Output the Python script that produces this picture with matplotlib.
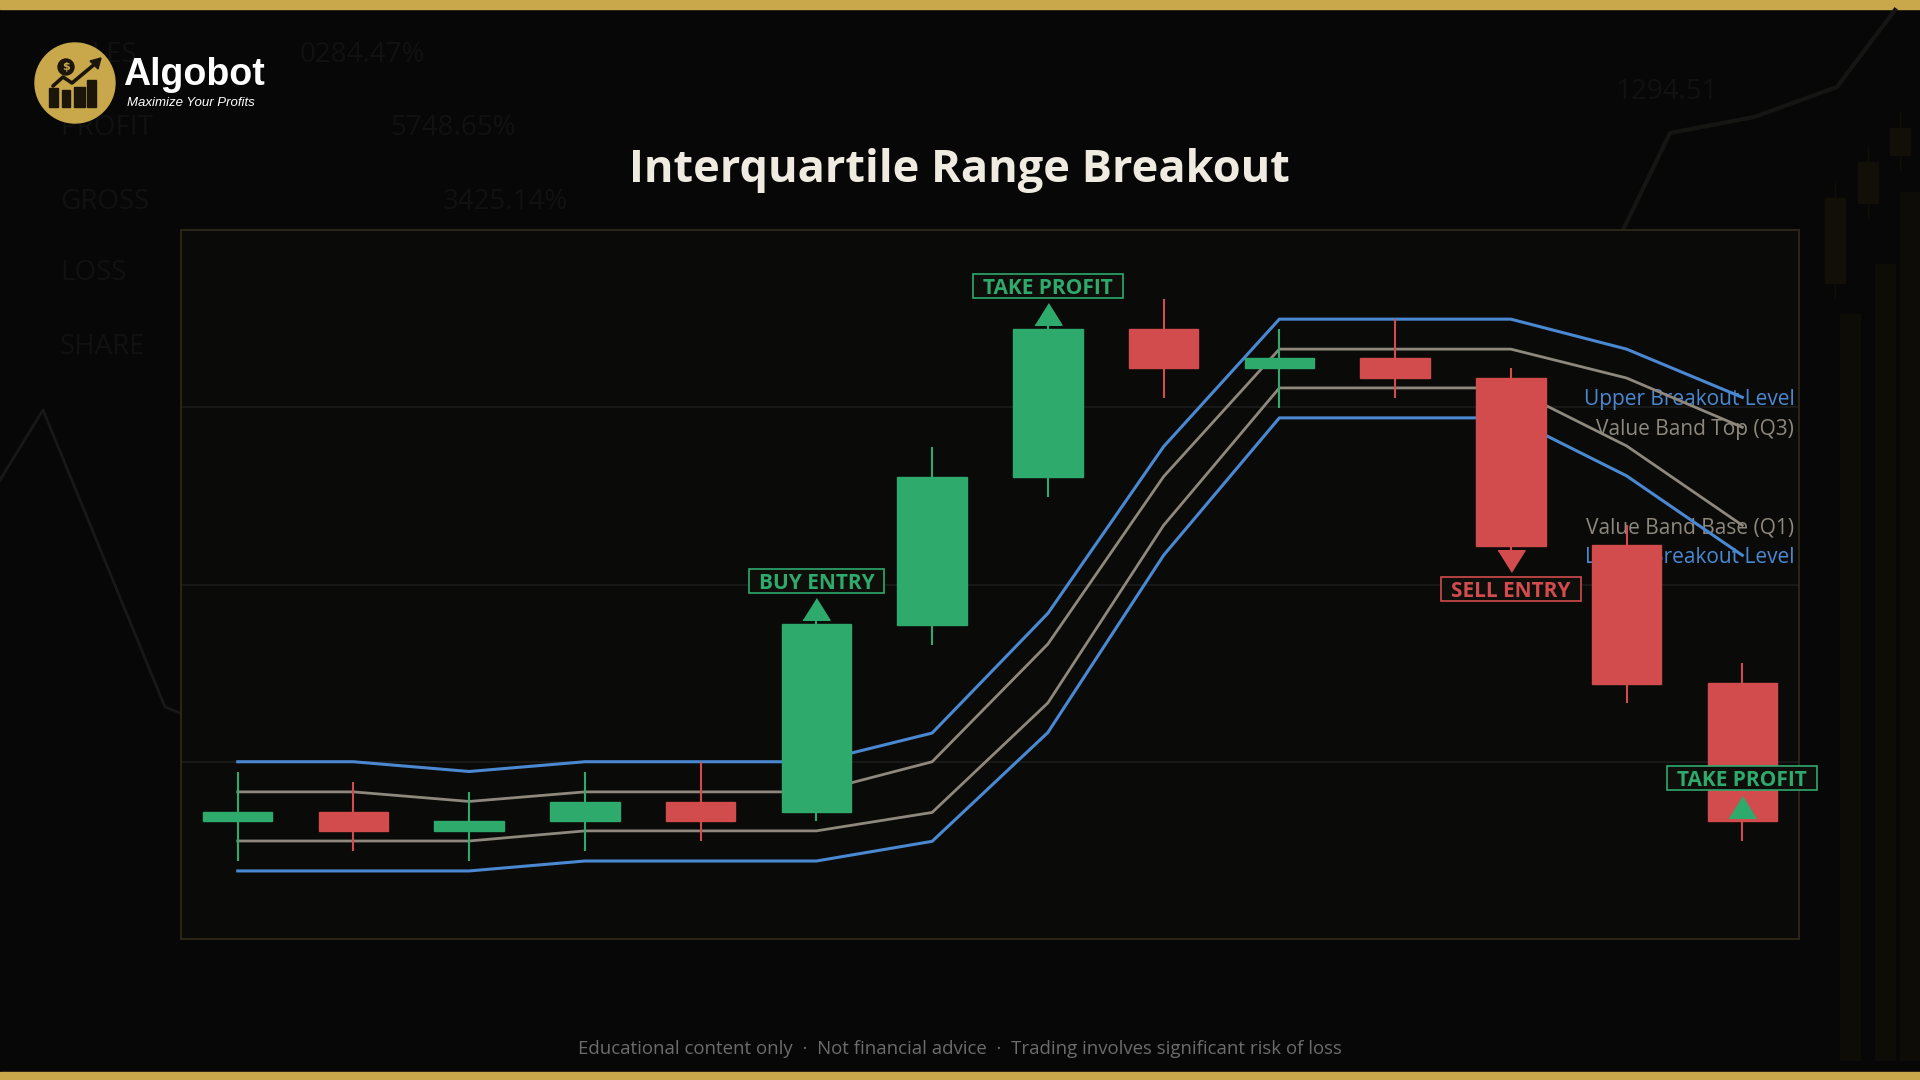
import matplotlib.pyplot as plt
from matplotlib.patches import Rectangle, Circle
from matplotlib import transforms

# ---- chart data (price units) ----
candle_idx = list(range(14))
opens = [96.64, 97.17, 96.07, 96.64, 97.73, 97.14, 107.73, 116.05, 124.42, 122.19, 122.79, 121.66, 112.21, 104.45]
closes = [97.17, 96.07, 96.66, 97.73, 96.64, 107.77, 116.09, 124.42, 122.19, 122.79, 121.63, 112.17, 104.41, 96.64]
highs = [99.44, 98.87, 98.31, 99.44, 100.0, 108.0, 117.78, 124.7, 126.11, 124.4, 124.97, 122.21, 113.34, 105.55]
lows = [94.38, 94.95, 94.38, 94.95, 95.51, 96.64, 106.6, 114.93, 120.5, 119.94, 120.5, 111.9, 103.3, 95.51]

upper_level = [100.0, 100.0, 99.45, 100.0, 100.0, 100.0, 101.62, 108.37, 117.78, 124.97, 124.97, 124.97, 123.28, 120.56]
q3_level = [98.3, 98.3, 97.76, 98.3, 98.3, 98.3, 100.0, 106.64, 116.09, 123.28, 123.28, 123.28, 121.65, 118.87]
q1_level = [95.53, 95.53, 95.53, 96.1, 96.1, 96.1, 97.14, 103.32, 113.34, 121.09, 121.09, 121.09, 117.82, 113.34]
lower_level = [93.84, 93.84, 93.84, 94.4, 94.4, 94.4, 95.51, 101.65, 111.65, 119.4, 119.4, 119.4, 116.13, 111.65]

band_names = ['Upper Breakout Level', 'Value Band Top (Q3)', 'Value Band Base (Q1)', 'Lower Breakout Level']

signal_idx = [5, 7, 11, 13]
signal_text = ['BUY ENTRY', 'TAKE PROFIT', 'SELL ENTRY', 'TAKE PROFIT']
signal_side = ['up', 'up', 'down', 'up']

grid_levels = [100, 110, 120]

# ---- colours ----
GREEN = '#2eaa6d'
RED = '#d24b4d'
BLUE = '#4a89d2'
GREY = '#8e887d'
GOLD = '#c9a84c'
BG = '#070707'
PANEL = '#0a0a09'

FONT = ['Open Sans', 'DejaVu Sans']

fig = plt.figure(figsize=(19.2, 10.8), dpi=100, facecolor=BG)

# full-figure layer in pixel coordinates for decoration
bg = fig.add_axes([0, 0, 1, 1], zorder=0)
bg.set_xlim(0, 1920)
bg.set_ylim(1080, 0)
bg.axis('off')

# faint backdrop: stats table, price text, sketch lines, ghost candles
faint = '#111111'
for label, y in zip(['SALES', 'PROFIT', 'GROSS', 'LOSS', 'SHARE'], [55, 128, 202, 273, 347]):
    bg.text(60, y, label, fontsize=20, color=faint, va='center', family=FONT)
for label, x, y in [('0284.47%', 300, 55), ('5748.65%', 390, 128), ('3425.14%', 443, 202), ('1294.51', 1615, 92)]:
    bg.text(x, y, label, fontsize=20, color=faint, va='center', family=FONT)
bg.plot([0, 43, 165, 180], [480, 410, 707, 713], color='#181818', lw=2)
bg.plot([1623, 1670, 1754, 1837, 1895], [230, 133, 117, 87, 10], color='#151513', lw=3)
for x, top, bot in [(1835, 198, 283), (1868, 162, 203), (1900, 128, 155)]:
    bg.add_patch(Rectangle((x - 10, top), 20, bot - top, color='#120f09'))
    bg.plot([x, x], [top - 15, bot + 15], color='#120f09', lw=1)
for x, top in [(1850, 314), (1885, 264), (1910, 192)]:
    bg.add_patch(Rectangle((x - 10, top), 20, 1060 - top, color='#0d0c07'))

# gold bars
bg.add_patch(Rectangle((0, 0), 1920, 9, color=GOLD))
bg.add_patch(Rectangle((0, 1072), 1920, 8, color=GOLD))

# logo
dark = '#1b1609'
bg.add_patch(Circle((75, 83), 40, color=GOLD, zorder=3))
bg.add_patch(Circle((66, 67), 8, color=dark, zorder=4))
bg.text(66, 67.5, '$', color=GOLD, fontsize=8, fontweight='bold', ha='center', va='center', zorder=5)
for x0, x1, top in [(49, 58, 88), (62, 70, 90), (74, 85, 87), (87, 96, 80)]:
    bg.add_patch(Rectangle((x0, top), x1 - x0, 107 - top, color=dark, zorder=4))
bg.plot([53, 63, 72, 96], [86, 77, 83, 63], color=dark, lw=2.6, solid_capstyle='round', zorder=4)
bg.add_patch(plt.Polygon([[101, 58], [90, 61], [98, 69]], color=dark, zorder=4))
bg.text(123, 85, 'Algobot', color='white', fontsize=27, fontweight='bold', va='baseline',
        family=['Liberation Sans', 'DejaVu Sans'], zorder=5)
bg.text(127, 106, 'Maximize Your Profits', color='white', fontsize=9.5, style='italic', va='baseline',
        family=['Liberation Sans', 'DejaVu Sans'], zorder=5)

# title and footer
bg.text(959, 182, 'Interquartile Range Breakout', ha='center', va='baseline', fontsize=32.5,
        fontweight='bold', color='#f0ebe0', family=FONT)
bg.text(960, 1054, 'Educational content only  \u00b7  Not financial advice  \u00b7  Trading involves significant risk of loss',
        ha='center', va='baseline', fontsize=13.4, color='#6c6c6c', family=FONT)

# ---- main chart ----
ax = fig.add_axes([181 / 1920, 1 - 939 / 1080, (1799 - 181) / 1920, (939 - 230) / 1080], zorder=2)
ax.set_facecolor(PANEL)
ax.set_xlim(-0.49, 13.49)
ax.set_ylim(90, 130)
ax.set_xticks([])
ax.set_yticks([])
for s in ax.spines.values():
    s.set_color('#2e2819')
    s.set_linewidth(1.3)
for g in grid_levels:
    ax.axhline(g, color='#1c1b19', lw=1.2, zorder=0.5)

# bands
band_series = [upper_level, q3_level, q1_level, lower_level]
band_colors = [BLUE, GREY, GREY, BLUE]
band_widths = [2.2, 2.0, 2.0, 2.2]
for series, col, lw, name in zip(band_series, band_colors, band_widths, band_names):
    ax.plot(candle_idx, series, color=col, lw=lw, zorder=2)
    ax.text(13.45, series[-1] - 0.15, name, ha='right', va='center', color=col,
            fontsize=15, family=FONT, zorder=1.5)

# candles
body_w = 0.6
for i, o, c, h, l in zip(candle_idx, opens, closes, highs, lows):
    col = GREEN if c >= o else RED
    ax.vlines(i, l, h, color=col, lw=1.5, zorder=3)
    ax.add_patch(Rectangle((i - body_w / 2, min(o, c)), body_w, abs(c - o), color=col, zorder=4))

# signals: triangle marker plus boxed label
tri_up = [(-1, -0.8), (1, -0.8), (0, 0.8)]
tri_down = [(-1, 0.8), (1, 0.8), (0, -0.8)]
sig_labels = []
for i, txt, side in zip(signal_idx, signal_text, signal_side):
    col = RED if txt.startswith('SELL') else GREEN
    sign = 1 if side == 'up' else -1
    mark_y = closes[i] + sign * 0.82
    lab_y = closes[i] + sign * 2.42
    ax.plot([i], [mark_y], marker=tri_up if side == 'up' else tri_down, ms=19.5,
            color=col, ls='none', zorder=5)
    t = ax.annotate(txt, xy=(i, lab_y), xytext=(0, -5.8), textcoords='offset points',
                    ha='center', va='baseline', fontsize=15, fontweight='bold', color=col,
                    family=FONT, zorder=7, annotation_clip=False)
    sig_labels.append((t, i, lab_y, col))

fig.canvas.draw()
renderer = fig.canvas.get_renderer()
for t, i, lab_y, col in sig_labels:
    w_px = t.get_window_extent(renderer).width + 20
    h_px = 24
    tr = fig.dpi_scale_trans + transforms.ScaledTranslation(i, lab_y, ax.transData)
    ax.add_patch(Rectangle((-w_px / 200, -h_px / 200), w_px / 100, h_px / 100, transform=tr,
                           facecolor='#0e0e0b', edgecolor=col, lw=1.2, zorder=6, clip_on=False))

fig.savefig('out.png', dpi=100, facecolor=fig.get_facecolor())
